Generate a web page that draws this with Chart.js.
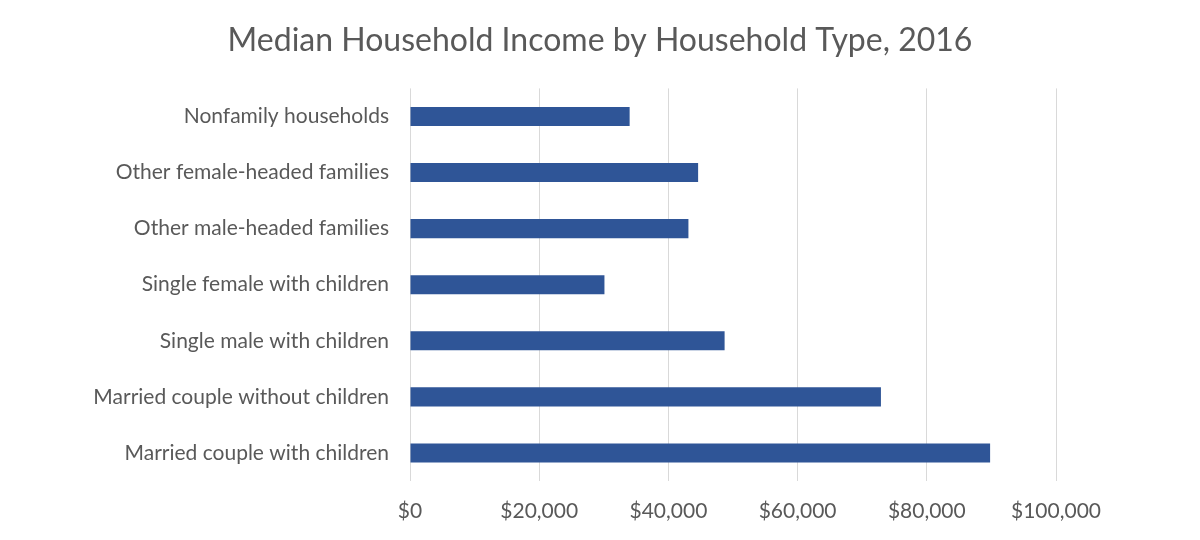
<!DOCTYPE html>
<html>
<head>
<meta charset="utf-8">
<script src="https://cdn.jsdelivr.net/npm/chart.js@4"></script>
<style>
  html, body { margin: 0; padding: 0; background: #ffffff; }
  #wrap { width: 1200px; height: 540px; position: relative; }
</style>
</head>
<body>
<div id="wrap"><canvas id="c" width="1200" height="540"></canvas></div>
<script>
const categories = [
  "Nonfamily households",
  "Other female-headed families",
  "Other male-headed families",
  "Single female with children",
  "Single male with children",
  "Married couple without children",
  "Married couple with children"
];
const medianIncome = [34000, 44600, 43100, 30100, 48700, 72900, 89800];
const xTickValues = [0, 20000, 40000, 60000, 80000, 100000];
const chartTitle = "Median Household Income by Household Type, 2016";

const FONT = "Lato, 'Liberation Sans', sans-serif";
const TEXT = "#595959";

new Chart(document.getElementById("c"), {
  type: "bar",
  data: {
    labels: categories,
    datasets: [{
      data: medianIncome,
      backgroundColor: "#2F5597",
      borderWidth: 0,
      categoryPercentage: 1.0,
      barPercentage: 0.34
    }]
  },
  options: {
    indexAxis: "y",
    responsive: false,
    animation: false,
    layout: { padding: 0 },
    plugins: {
      legend: { display: false },
      tooltip: { enabled: false },
      title: {
        display: true,
        text: chartTitle,
        color: TEXT,
        font: { family: FONT, size: 32, weight: "normal" },
        padding: { top: 21, bottom: 29 }
      }
    },
    scales: {
      x: {
        type: "linear",
        min: 0,
        max: 100000,
        afterBuildTicks: (axis) => { axis.ticks = xTickValues.map(v => ({ value: v })); },
        afterFit: (axis) => { axis.height = 59; },
        grid: { color: "#d9d9d9", lineWidth: 1, drawTicks: false },
        border: { display: false },
        ticks: {
          color: TEXT,
          padding: 18,
          font: { family: FONT, size: 21 },
          callback: (v) => "$" + Number(v).toLocaleString("en-US")
        }
      },
      y: {
        afterFit: (axis) => { axis.width = 410; },
        grid: { display: false, drawTicks: false },
        border: { display: false },
        ticks: {
          color: TEXT,
          padding: 21,
          font: { family: FONT, size: 21 }
        }
      },
      yRight: {
        type: "category",
        position: "right",
        afterFit: (axis) => { axis.width = 144; },
        grid: { display: false, drawTicks: false },
        border: { display: false },
        ticks: { display: false }
      }
    }
  }
});
</script>
</body>
</html>
